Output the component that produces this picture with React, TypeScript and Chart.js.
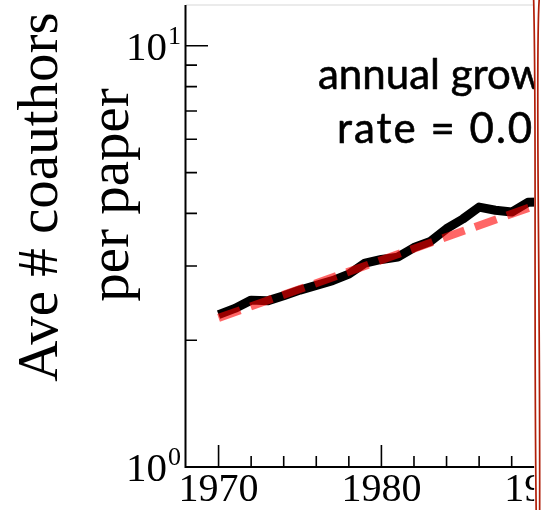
import { useEffect, useRef } from "react";
import { Chart, registerables } from "chart.js";

Chart.register(...registerables);

const YEARS = [1970, 1971, 1972, 1973, 1974, 1975, 1976, 1977, 1978, 1979, 1980, 1981, 1982, 1983, 1984, 1985, 1986, 1987, 1988, 1989, 1990];
const COAUTHORS = [2.3, 2.38, 2.49, 2.48, 2.55, 2.63, 2.7, 2.77, 2.87, 3.05, 3.11, 3.15, 3.32, 3.43, 3.68, 3.88, 4.14, 4.07, 4.03, 4.25, 4.26];
const FIT_YEARS = [1970, 1990];
const FIT_VALUES = [2.26, 4.25];

const X_MAJOR_TICKS = [1970, 1980, 1990];
const X_MAJOR_LABELS = ["1970", "1980", "1990"];
const X_MINOR_TICKS = [1972, 1974, 1976, 1978, 1982, 1984, 1986, 1988];
const Y_MAJOR_TICKS = [1, 10];
const Y_MAJOR_BASES = ["10", "10"];
const Y_MAJOR_EXPONENTS = ["0", "1"];
const Y_MINOR_TICKS = [2, 3, 4, 5, 6, 7, 8, 9];
const Y_TITLE = ["Ave # coauthors", "per paper"];
const ANNOTATION = ["annual growth", "rate = 0.03"];
const CUT_YEAR = 1989.38;

const SERIF = "'Liberation Serif', 'DejaVu Serif', serif";
const SANS = "Lato, 'Open Sans', sans-serif";

const decor = {
  id: "decor",
  afterDatasetsDraw(chart: any) {
    const { ctx, chartArea: a, scales } = chart;
    const x = scales.x;
    const y = scales.y;
    const W = chart.width;
    const H = chart.height;
    ctx.save();

    // top frame line
    ctx.strokeStyle = "#e4e4e4";
    ctx.lineWidth = 1.5;
    ctx.beginPath();
    ctx.moveTo(a.left, a.top);
    ctx.lineTo(a.right, a.top);
    ctx.stroke();

    // axes
    ctx.strokeStyle = "#000";
    ctx.lineWidth = 2;
    ctx.beginPath();
    ctx.moveTo(a.left - 0.5, a.top);
    ctx.lineTo(a.left - 0.5, a.bottom);
    ctx.lineTo(a.right, a.bottom);
    ctx.stroke();

    // ticks
    ctx.lineWidth = 1.6;
    ctx.beginPath();
    X_MAJOR_TICKS.forEach((v) => {
      const px = x.getPixelForValue(v);
      ctx.moveTo(px, a.bottom);
      ctx.lineTo(px, a.bottom - 22);
    });
    X_MINOR_TICKS.forEach((v) => {
      const px = x.getPixelForValue(v);
      ctx.moveTo(px, a.bottom);
      ctx.lineTo(px, a.bottom - 11);
    });
    Y_MAJOR_TICKS.forEach((v) => {
      const py = y.getPixelForValue(v);
      ctx.moveTo(a.left, py);
      ctx.lineTo(a.left + 22, py);
    });
    Y_MINOR_TICKS.forEach((v) => {
      const py = y.getPixelForValue(v);
      ctx.moveTo(a.left, py);
      ctx.lineTo(a.left + 11, py);
    });
    ctx.stroke();

    // x tick labels
    ctx.fillStyle = "#000";
    ctx.font = `40px ${SERIF}`;
    ctx.textAlign = "center";
    ctx.textBaseline = "alphabetic";
    X_MAJOR_TICKS.forEach((v, i) => {
      ctx.fillText(X_MAJOR_LABELS[i], x.getPixelForValue(v), a.bottom + 34);
    });

    // y tick labels with superscripts
    Y_MAJOR_TICKS.forEach((v, i) => {
      const py = y.getPixelForValue(v);
      ctx.font = `41px ${SERIF}`;
      ctx.textAlign = "right";
      ctx.fillText(Y_MAJOR_BASES[i], a.left - 19, py + 14);
      ctx.font = `26px ${SERIF}`;
      ctx.textAlign = "left";
      ctx.fillText(Y_MAJOR_EXPONENTS[i], a.left - 18, py - 2);
    });

    // y title (two rotated lines)
    ctx.font = `57px ${SERIF}`;
    ctx.textAlign = "center";
    const titlePos = [
      [57, 197],
      [128, 195],
    ];
    Y_TITLE.forEach((t, i) => {
      ctx.save();
      ctx.translate(titlePos[i][0], titlePos[i][1]);
      ctx.rotate(-Math.PI / 2);
      ctx.fillText(t, 0, 0);
      ctx.restore();
    });

    // annotation (regular weight with a light outline for a medium look)
    ctx.font = `42px ${SANS}`;
    ctx.textAlign = "left";
    ctx.strokeStyle = "#000";
    ctx.lineWidth = 0.6;
    ctx.lineJoin = "round";
    (ctx as any).letterSpacing = "0px";
    ctx.fillText(ANNOTATION[0], 318, 89);
    ctx.strokeText(ANNOTATION[0], 318, 89);
    (ctx as any).letterSpacing = "2px";
    ctx.fillText(ANNOTATION[1], 337, 143);
    ctx.strokeText(ANNOTATION[1], 337, 143);
    (ctx as any).letterSpacing = "0px";

    // cut at right edge
    const cx = x.getPixelForValue(CUT_YEAR);
    ctx.fillStyle = "#fff";
    ctx.fillRect(cx, 0, W - cx, H);

    ctx.strokeStyle = "#b01e08";
    ctx.lineWidth = 1.7;
    ctx.beginPath();
    ctx.moveTo(cx - 0.5, 0);
    ctx.bezierCurveTo(cx + 2.5, 120, cx - 0.5, 300, cx + 2, H);
    ctx.stroke();
    ctx.beginPath();
    ctx.moveTo(cx + 5, 0);
    ctx.bezierCurveTo(cx + 1, 60, cx + 6, 260, cx + 5.5, H);
    ctx.stroke();

    ctx.restore();
  },
};

export default function App() {
  const ref = useRef<HTMLCanvasElement | null>(null);

  useEffect(() => {
    document.body.style.margin = "0";
    if (!ref.current) return;
    const chart = new Chart(ref.current, {
      type: "line",
      data: {
        datasets: [
          {
            label: "fit",
            data: FIT_YEARS.map((v, i) => ({ x: v, y: FIT_VALUES[i] })),
            borderColor: "rgba(255,0,0,0.6)",
            borderWidth: 8,
            borderDash: [23, 11],
            borderCapStyle: "butt",
            pointRadius: 0,
            fill: false,
            order: 0,
          },
          {
            label: "coauthors",
            data: YEARS.map((v, i) => ({ x: v, y: COAUTHORS[i] })),
            borderColor: "#000",
            borderWidth: 9,
            borderJoinStyle: "round",
            pointRadius: 0,
            fill: false,
            tension: 0,
            order: 1,
          },
        ],
      },
      options: {
        responsive: false,
        animation: false,
        devicePixelRatio: 1,
        layout: { padding: { left: 186, right: 0, top: 5, bottom: 43 } },
        plugins: { legend: { display: false }, tooltip: { enabled: false } },
        scales: {
          x: { type: "linear", min: 1968, max: 1989.8, display: false },
          y: { type: "logarithmic", min: 1, max: 12.5, display: false },
        },
      },
      plugins: [decor],
    } as any);
    return () => chart.destroy();
  }, []);

  return (
    <div style={{ position: "absolute", left: 0, top: 0, width: 541, height: 510, background: "#fff" }}>
      <canvas ref={ref} width={541} height={510} />
    </div>
  );
}
